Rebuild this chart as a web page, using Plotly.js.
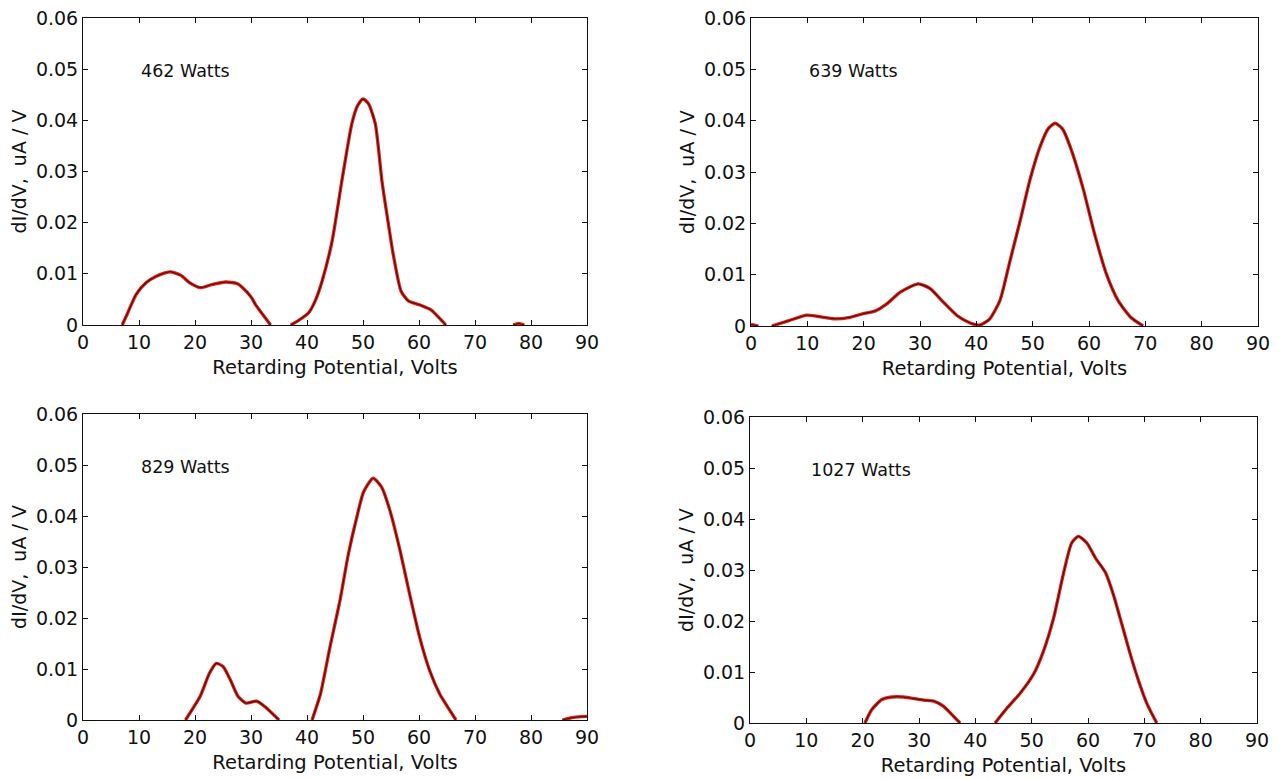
<!DOCTYPE html>
<html>
<head>
<meta charset="utf-8">
<script src="https://cdn.plot.ly/plotly-3.0.1.min.js"></script>
<style>html,body{margin:0;padding:0;background:#fff;}</style>
</head>
<body>
<div id="chart" style="width:1285px;height:779px;"></div>
<script>
// ---- data ----
const panelLabels = ["462 Watts", "639 Watts", "829 Watts", "1027 Watts"];

const x462 = [7.0, 8.0, 9.5, 11.3, 13.0, 15.5, 17.5, 19.0, 21.0, 23.0, 25.5, 27.5, 28.5, 30.0, 30.8, 32.0, 33.5, 35.3, 37.1, 38.5, 40.3, 41.5, 42.7, 44.5, 46.2, 48.0, 49.0, 50.0, 51.0, 52.2, 53.4, 54.5, 55.4, 56.8, 58.1, 60.2, 62.2, 63.6, 64.8, 71.0, 76.8, 77.8, 78.8];
const y462 = [0, 0.0024, 0.006, 0.0083, 0.0095, 0.0104, 0.0097, 0.0083, 0.0073, 0.0079, 0.0084, 0.0081, 0.0073, 0.0055, 0.004, 0.0022, 0, null, 0, 0.0009, 0.0024, 0.0048, 0.0086, 0.0165, 0.028, 0.0393, 0.0428, 0.0442, 0.0432, 0.0393, 0.028, 0.02, 0.0138, 0.0066, 0.0047, 0.0039, 0.0029, 0.0014, 0, null, 0, 0.0003, 0];

const x639 = [0, 1.3, 2.5, 3.7, 6.9, 9.9, 11.7, 14.9, 17.6, 19.9, 22.0, 24.1, 26.5, 29.7, 31.8, 34.1, 36.5, 38.9, 40.7, 42.4, 44.2, 46.0, 47.8, 49.5, 51.3, 52.8, 54.0, 55.3, 56.7, 58.9, 61.0, 63.1, 65.2, 67.4, 69.6];
const y639 = [0.0003, 0, null, 0, 0.0011, 0.0021, 0.0019, 0.0014, 0.0017, 0.0024, 0.0029, 0.0043, 0.0066, 0.0082, 0.0073, 0.0047, 0.0021, 0.0006, 0.0002, 0.0014, 0.005, 0.0128, 0.0206, 0.0284, 0.0349, 0.0385, 0.0395, 0.0384, 0.0348, 0.027, 0.0179, 0.0101, 0.0049, 0.0017, 0];

const x829 = [18.3, 20.9, 22.6, 23.8, 25.0, 26.3, 27.7, 29.1, 31.0, 32.5, 35.0, 38.0, 40.9, 42.4, 44.1, 45.9, 47.4, 48.9, 50.1, 51.8, 53.3, 54.8, 56.6, 58.3, 60.1, 61.9, 63.7, 65.5, 66.6, 76.0, 85.6, 87.6, 90.0];
const y829 = [0, 0.0046, 0.0092, 0.0111, 0.0105, 0.0079, 0.0046, 0.0033, 0.0037, 0.0026, 0, null, 0, 0.0051, 0.0143, 0.0235, 0.0326, 0.0398, 0.0447, 0.0474, 0.0457, 0.0411, 0.0333, 0.0248, 0.0163, 0.0097, 0.0051, 0.0019, 0, null, 0, 0.0005, 0.0007];

const x1027 = [20.4, 21.6, 23.4, 25.2, 27.2, 30.8, 32.6, 34.3, 35.8, 37.3, 40.0, 43.5, 45.6, 48.0, 50.3, 52.1, 53.9, 55.6, 57.1, 58.3, 59.8, 61.3, 63.1, 64.5, 66.0, 67.5, 69.0, 70.5, 72.2];
const y1027 = [0, 0.0026, 0.0046, 0.0051, 0.0051, 0.0045, 0.0043, 0.0033, 0.0017, 0, null, 0, 0.0029, 0.0059, 0.0095, 0.0141, 0.0206, 0.0291, 0.0353, 0.0366, 0.0353, 0.0324, 0.0295, 0.0252, 0.0194, 0.0135, 0.0082, 0.0037, 0];

const xTicks = [0, 10, 20, 30, 40, 50, 60, 70, 80, 90];
const yTicks = [0, 0.01, 0.02, 0.03, 0.04, 0.05, 0.06];
const yTickText = ["0", "0.01", "0.02", "0.03", "0.04", "0.05", "0.06"];
const xTitle = "Retarding Potential, Volts";
const yTitle = "dI/dV,\u00a0 uA / V";

// ---- build ----
const series = [[x462, y462], [x639, y639], [x829, y829], [x1027, y1027]];
const FONT = "DejaVu Sans, Verdana, sans-serif";
const traces = [];
series.forEach((s, i) => {
  const ax = i === 0 ? "" : String(i + 1);
  traces.push({x: s[0], y: s[1], xaxis: "x" + ax, yaxis: "y" + ax, type: "scatter", mode: "lines",
    connectgaps: false, line: {color: "#e0221a", width: 3.3, shape: "spline", smoothing: 0.6}, hoverinfo: "skip"});
  traces.push({x: s[0], y: s[1], xaxis: "x" + ax, yaxis: "y" + ax, type: "scatter", mode: "lines",
    connectgaps: false, line: {color: "#4a0c08", width: 1.1, shape: "spline", smoothing: 0.6}});
});

const W = 1285, H = 779;
const boxes = [
  {l: 83, r: 587, t: 18, b: 325},
  {l: 751, r: 1258, t: 18, b: 326},
  {l: 83, r: 587, t: 414, b: 720},
  {l: 750, r: 1257, t: 417, b: 723}
];

const layout = {
  width: W, height: H,
  margin: {l: 0, r: 0, t: 0, b: 0},
  paper_bgcolor: "#ffffff", plot_bgcolor: "#ffffff",
  showlegend: false,
  font: {family: FONT, size: 19, color: "#111"},
  annotations: []
};

boxes.forEach((bx, i) => {
  const ax = i === 0 ? "" : String(i + 1);
  layout["xaxis" + ax] = {
    domain: [bx.l / W, bx.r / W], anchor: "y" + ax,
    range: [0, 90], tickvals: xTicks, ticktext: xTicks.map(String),
    ticks: "inside", ticklen: 5, tickcolor: "#111", tickwidth: 1,
    showline: true, linecolor: "#111", linewidth: 1, mirror: "ticks",
    showgrid: false, zeroline: false, fixedrange: true,
    tickfont: {family: FONT, size: 19, color: "#111"},
    title: {text: xTitle, font: {family: FONT, size: 19.5, color: "#111"}, standoff: 8}
  };
  layout["yaxis" + ax] = {
    domain: [1 - bx.b / H, 1 - bx.t / H], anchor: "x" + ax,
    range: [0, 0.06], tickvals: yTicks, ticktext: yTickText,
    ticks: "inside", ticklen: 5, tickcolor: "#111", tickwidth: 1,
    showline: true, linecolor: "#111", linewidth: 1, mirror: "ticks",
    showgrid: false, zeroline: false, fixedrange: true,
    tickfont: {family: FONT, size: 19, color: "#111"},
    title: {text: yTitle, font: {family: FONT, size: 19, color: "#111"}, standoff: 4}
  };
  layout.annotations.push({
    xref: "x" + ax, yref: "y" + ax, x: i === 3 ? 10.5 : 10, y: 0.0496,
    text: panelLabels[i], showarrow: false, xanchor: "left", yanchor: "middle",
    font: {family: FONT, size: 17.5, color: "#111"}
  });
});

Plotly.newPlot("chart", traces, layout, {displayModeBar: false, staticPlot: true});
</script>
</body>
</html>
